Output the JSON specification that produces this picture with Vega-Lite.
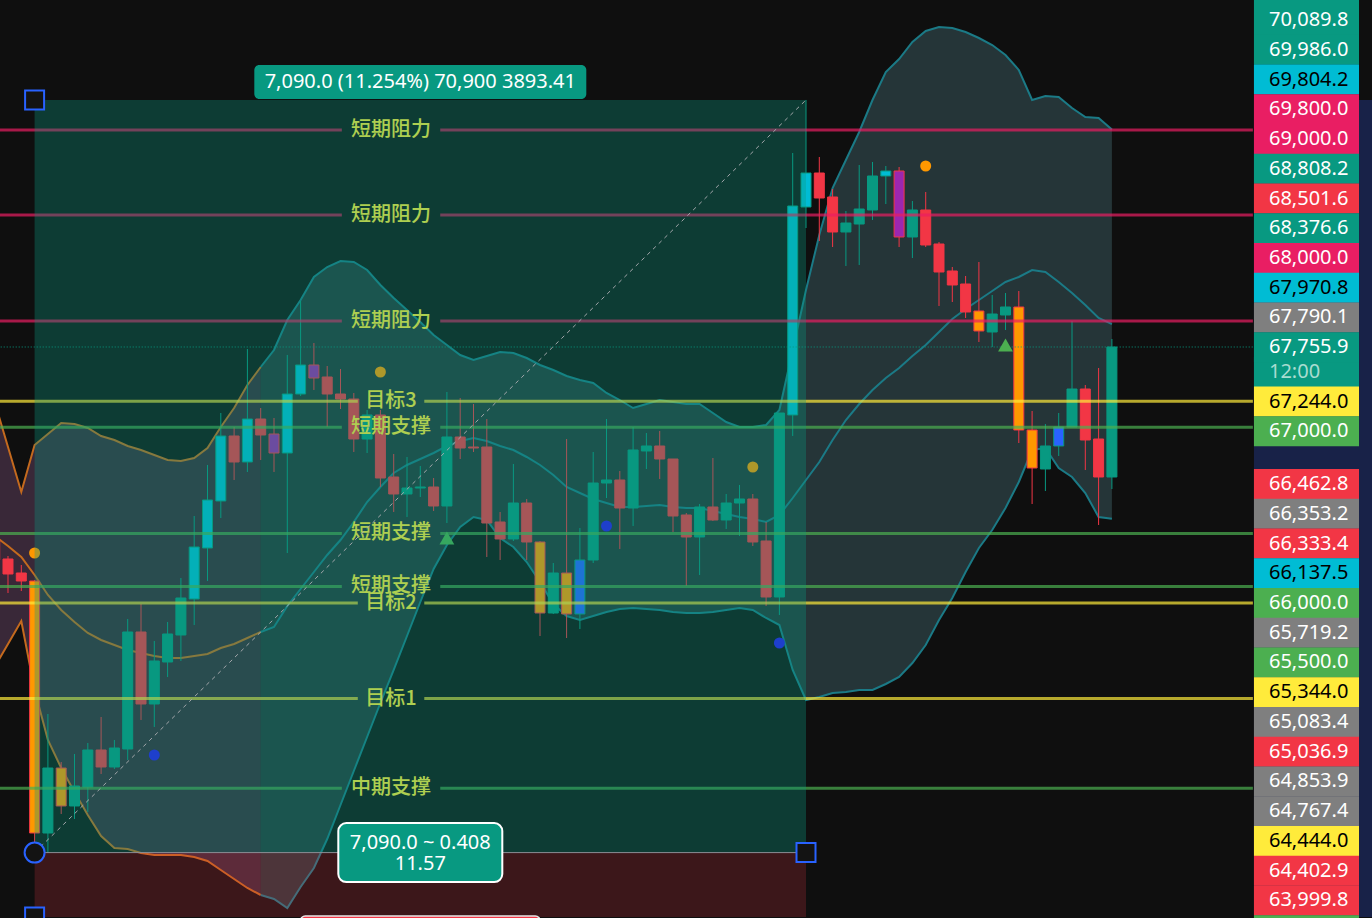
{
"$schema":"https://vega.github.io/schema/vega-lite/v6.json",
"width":1372,"height":918,"padding":0,"autosize":{"type":"none"},
"background":"#0f0f0f",
"config":{"view":{"stroke":null},"axis":{"domain":false,"ticks":false,"labels":false,"grid":false},"text":{"font":"Noto Sans"}},
"resolve":{"scale":{"fill":"independent","color":"independent"}},
"datasets":{
"bars":[
{"i":-1,"o":65937.8,"h":65984.9,"l":65702.3,"c":65749.4,"k":"down","u":67237.8,"m":65975.5,"lo":64741.5},
{"i":0,"o":65758.8,"h":65787.1,"l":65438.5,"c":65617.5,"k":"down","u":66813.9,"m":65881.3,"lo":64958.1},
{"i":1,"o":65626.9,"h":65702.3,"l":65457.4,"c":65551.6,"k":"down","u":66390.0,"m":65777.7,"lo":65174.8},
{"i":2,"o":65551.6,"h":65561.0,"l":63083.5,"c":63177.7,"k":"orange","u":66832.7,"m":65608.1,"lo":64524.8},
{"i":3,"o":63177.7,"h":64298.7,"l":62993.0,"c":63790.0,"k":"up","u":66936.3,"m":65419.7,"lo":64053.8},
{"i":4,"o":63790.0,"h":63846.6,"l":63356.7,"c":63432.1,"k":"orange","u":67039.9,"m":65278.4,"lo":63790.0},
{"i":5,"o":63432.1,"h":63921.9,"l":63309.6,"c":63620.5,"k":"up","u":67030.5,"m":65165.4,"lo":63564.0},
{"i":6,"o":63611.1,"h":64025.5,"l":63375.6,"c":63959.6,"k":"up","u":66992.8,"m":65061.7,"lo":63347.3},
{"i":7,"o":63959.6,"h":64270.5,"l":63733.5,"c":63799.5,"k":"down","u":66917.5,"m":64995.8,"lo":63149.5},
{"i":8,"o":63799.5,"h":64053.8,"l":63780.6,"c":63978.4,"k":"up","u":66879.8,"m":64948.7,"lo":63036.4},
{"i":9,"o":63969.0,"h":65193.6,"l":63865.4,"c":65071.2,"k":"up","u":66823.3,"m":64901.6,"lo":63027.0},
{"i":10,"o":65071.2,"h":65334.9,"l":64242.2,"c":64392.9,"k":"down","u":66785.6,"m":64873.3,"lo":62989.3},
{"i":11,"o":64392.9,"h":64986.4,"l":64176.3,"c":64798.0,"k":"up","u":66738.5,"m":64845.1,"lo":62970.5},
{"i":12,"o":64788.6,"h":65165.4,"l":64647.3,"c":65052.3,"k":"up","u":66691.4,"m":64826.2,"lo":62970.5},
{"i":13,"o":65042.9,"h":65579.8,"l":64798.0,"c":65391.4,"k":"up","u":66682.0,"m":64826.2,"lo":62970.5},
{"i":14,"o":65382.0,"h":66163.9,"l":65137.1,"c":65871.9,"k":"cyan","u":66710.2,"m":64845.1,"lo":62951.7},
{"i":15,"o":65862.4,"h":66644.3,"l":65551.6,"c":66314.6,"k":"cyan","u":66804.4,"m":64863.9,"lo":62914.0},
{"i":16,"o":66305.2,"h":67134.1,"l":66145.0,"c":66917.5,"k":"cyan","u":67002.3,"m":64920.4,"lo":62829.2},
{"i":17,"o":66917.5,"h":67002.3,"l":66503.0,"c":66672.6,"k":"down","u":67181.2,"m":64958.1,"lo":62744.4},
{"i":18,"o":66672.6,"h":67737.0,"l":66578.4,"c":67077.6,"k":"cyan","u":67397.9,"m":65014.6,"lo":62659.6},
{"i":19,"o":67077.6,"h":67181.2,"l":66691.4,"c":66926.9,"k":"down","u":67567.5,"m":65071.2,"lo":62593.7},
{"i":20,"o":66936.3,"h":67087.0,"l":66578.4,"c":66757.3,"k":"purple","u":67727.6,"m":65118.3,"lo":62556.0},
{"i":21,"o":66757.3,"h":67680.5,"l":65815.3,"c":67313.1,"k":"cyan","u":68010.2,"m":65316.1,"lo":62471.2},
{"i":22,"o":67313.1,"h":68189.2,"l":67294.3,"c":67586.3,"k":"cyan","u":68198.6,"m":65476.2,"lo":62669.1},
{"i":23,"o":67586.3,"h":67793.5,"l":67350.8,"c":67463.8,"k":"purple","u":68415.3,"m":65636.4,"lo":62848.0},
{"i":24,"o":67473.3,"h":67576.9,"l":67002.3,"c":67313.1,"k":"down","u":68509.5,"m":65796.5,"lo":63121.2},
{"i":25,"o":67313.1,"h":67548.6,"l":67171.8,"c":67266.0,"k":"down","u":68566.0,"m":65937.8,"lo":63441.5},
{"i":26,"o":67266.0,"h":67322.5,"l":66766.8,"c":66889.2,"k":"down","u":68556.6,"m":66107.4,"lo":63761.8},
{"i":27,"o":66889.2,"h":67162.4,"l":66757.3,"c":67115.3,"k":"up","u":68481.2,"m":66295.8,"lo":64082.1},
{"i":28,"o":67115.3,"h":67162.4,"l":66437.1,"c":66521.8,"k":"down","u":68339.9,"m":66437.1,"lo":64402.3},
{"i":29,"o":66531.3,"h":66747.9,"l":66201.6,"c":66371.1,"k":"down","u":68217.4,"m":66568.9,"lo":64713.2},
{"i":30,"o":66371.1,"h":66719.7,"l":66154.5,"c":66427.6,"k":"up","u":68104.4,"m":66644.3,"lo":65033.5},
{"i":31,"o":66427.6,"h":66634.9,"l":66342.9,"c":66437.1,"k":"up","u":67991.4,"m":66700.8,"lo":65353.8},
{"i":32,"o":66437.1,"h":66521.8,"l":66211.0,"c":66258.1,"k":"down","u":67868.9,"m":66757.3,"lo":65664.6},
{"i":33,"o":66258.1,"h":67332.0,"l":66097.9,"c":66908.1,"k":"up","u":67774.7,"m":66823.3,"lo":65890.7},
{"i":34,"o":66908.1,"h":67275.4,"l":66700.8,"c":66804.4,"k":"down","u":67680.5,"m":66870.4,"lo":66060.3},
{"i":35,"o":66813.9,"h":67218.9,"l":66766.8,"c":66804.4,"k":"down","u":67633.4,"m":66898.6,"lo":66154.5},
{"i":36,"o":66813.9,"h":67077.6,"l":65777.7,"c":66097.9,"k":"down","u":67671.1,"m":66870.4,"lo":66126.2},
{"i":37,"o":66107.4,"h":66201.6,"l":65749.4,"c":65947.2,"k":"down","u":67708.8,"m":66823.3,"lo":65956.6},
{"i":38,"o":65947.2,"h":66653.7,"l":65928.4,"c":66286.3,"k":"up","u":67699.3,"m":66785.6,"lo":65871.9},
{"i":39,"o":66286.3,"h":66324.0,"l":65749.4,"c":65919.0,"k":"down","u":67652.2,"m":66719.7,"lo":65730.6},
{"i":40,"o":65919.0,"h":65928.4,"l":65033.5,"c":65250.1,"k":"orange","u":67586.3,"m":66644.3,"lo":65542.2},
{"i":41,"o":65250.1,"h":65721.1,"l":65240.7,"c":65626.9,"k":"up","u":67539.2,"m":66550.1,"lo":65334.9},
{"i":42,"o":65626.9,"h":66889.2,"l":65014.6,"c":65240.7,"k":"orange","u":67482.7,"m":66437.1,"lo":65221.9},
{"i":43,"o":65240.7,"h":66050.8,"l":65099.4,"c":65749.4,"k":"blue","u":67445.0,"m":66380.5,"lo":65184.2},
{"i":44,"o":65749.4,"h":66766.8,"l":65721.1,"c":66474.7,"k":"up","u":67416.7,"m":66324.0,"lo":65221.9},
{"i":45,"o":66474.7,"h":67077.6,"l":66333.4,"c":66503.0,"k":"up","u":67322.5,"m":66286.3,"lo":65259.6},
{"i":46,"o":66503.0,"h":66587.8,"l":65853.0,"c":66239.2,"k":"down","u":67256.6,"m":66248.7,"lo":65287.8},
{"i":47,"o":66239.2,"h":67002.3,"l":66069.7,"c":66785.6,"k":"up","u":67181.2,"m":66248.7,"lo":65297.2},
{"i":48,"o":66776.2,"h":66945.7,"l":66606.6,"c":66823.3,"k":"up","u":67218.9,"m":66258.1,"lo":65287.8},
{"i":49,"o":66823.3,"h":66964.6,"l":66512.4,"c":66700.8,"k":"down","u":67256.6,"m":66267.5,"lo":65278.4},
{"i":50,"o":66700.8,"h":66700.8,"l":66013.2,"c":66163.9,"k":"down","u":67237.8,"m":66248.7,"lo":65259.6},
{"i":51,"o":66173.3,"h":66192.1,"l":65504.5,"c":65966.1,"k":"down","u":67218.9,"m":66239.2,"lo":65250.1},
{"i":52,"o":65966.1,"h":66276.9,"l":65608.1,"c":66248.7,"k":"up","u":67218.9,"m":66239.2,"lo":65250.1},
{"i":53,"o":66248.7,"h":66710.2,"l":66116.8,"c":66126.2,"k":"down","u":67134.1,"m":66211.0,"lo":65259.6},
{"i":54,"o":66126.2,"h":66371.1,"l":66041.4,"c":66286.3,"k":"up","u":67049.4,"m":66182.7,"lo":65278.4},
{"i":55,"o":66286.3,"h":66455.9,"l":65975.5,"c":66324.0,"k":"up","u":67002.3,"m":66154.5,"lo":65297.2},
{"i":56,"o":66324.0,"h":66371.1,"l":65881.3,"c":65919.0,"k":"down","u":67002.3,"m":66135.6,"lo":65278.4},
{"i":57,"o":65928.4,"h":66107.4,"l":65316.1,"c":65400.9,"k":"down","u":67021.1,"m":66107.4,"lo":65203.0},
{"i":58,"o":65400.9,"h":67134.1,"l":65231.3,"c":67134.1,"k":"up","u":67162.4,"m":66173.3,"lo":65137.1},
{"i":59,"o":67115.3,"h":69583.3,"l":66917.5,"c":69084.1,"k":"cyan","u":67727.6,"m":66333.4,"lo":64713.2},
{"i":60,"o":69074.7,"h":70083.0,"l":68876.8,"c":69394.9,"k":"cyan","u":68292.8,"m":66503.0,"lo":64430.6},
{"i":61,"o":69394.9,"h":69545.7,"l":68754.4,"c":69159.4,"k":"down","u":68810.9,"m":66672.6,"lo":64458.9},
{"i":62,"o":69168.9,"h":69244.2,"l":68697.9,"c":68839.2,"k":"down","u":69253.6,"m":66879.8,"lo":64496.5},
{"i":63,"o":68839.2,"h":69037.0,"l":68518.9,"c":68923.9,"k":"up","u":69517.4,"m":67068.2,"lo":64506.0},
{"i":64,"o":68914.5,"h":69470.3,"l":68528.3,"c":69055.8,"k":"up","u":69781.2,"m":67218.9,"lo":64524.8},
{"i":65,"o":69046.4,"h":69498.6,"l":68952.2,"c":69366.7,"k":"up","u":70082.6,"m":67350.8,"lo":64524.8},
{"i":66,"o":69366.7,"h":69460.9,"l":69102.9,"c":69413.8,"k":"cyan","u":70346.4,"m":67463.8,"lo":64581.3},
{"i":67,"o":69413.8,"h":69451.5,"l":68697.9,"c":68792.1,"k":"purple","u":70468.8,"m":67558.0,"lo":64647.3},
{"i":68,"o":68792.1,"h":69131.2,"l":68594.2,"c":69046.4,"k":"up","u":70629.0,"m":67671.1,"lo":64779.1},
{"i":69,"o":69046.4,"h":69216.0,"l":68697.9,"c":68716.7,"k":"down","u":70732.6,"m":67774.7,"lo":64948.7},
{"i":70,"o":68726.1,"h":68745.0,"l":68142.1,"c":68462.4,"k":"down","u":70770.3,"m":67897.2,"lo":65184.2},
{"i":71,"o":68471.8,"h":68509.5,"l":68179.8,"c":68339.9,"k":"down","u":70760.8,"m":68019.6,"lo":65391.4},
{"i":72,"o":68349.3,"h":68424.7,"l":68029.0,"c":68085.6,"k":"down","u":70723.2,"m":68113.8,"lo":65636.4},
{"i":73,"o":68095.0,"h":68556.6,"l":67803.0,"c":67906.6,"k":"orange","u":70666.6,"m":68198.6,"lo":65862.4},
{"i":74,"o":67897.2,"h":68245.7,"l":67755.9,"c":68066.7,"k":"up","u":70600.7,"m":68283.4,"lo":66032.0},
{"i":75,"o":68057.3,"h":68264.5,"l":67916.0,"c":68132.7,"k":"up","u":70506.5,"m":68368.2,"lo":66239.2},
{"i":76,"o":68132.7,"h":68283.4,"l":66851.5,"c":66974.0,"k":"orange","u":70365.2,"m":68415.3,"lo":66484.2},
{"i":77,"o":66974.0,"h":67153.0,"l":66276.9,"c":66616.0,"k":"orange","u":70082.6,"m":68481.2,"lo":66785.6},
{"i":78,"o":66606.6,"h":67030.5,"l":66399.4,"c":66823.3,"k":"up","u":70120.3,"m":68462.4,"lo":66804.4},
{"i":79,"o":66823.3,"h":67134.1,"l":66729.1,"c":67002.3,"k":"blue","u":70110.9,"m":68368.2,"lo":66616.0},
{"i":80,"o":67002.3,"h":68000.8,"l":67002.3,"c":67360.2,"k":"up","u":70007.2,"m":68264.5,"lo":66531.3},
{"i":81,"o":67360.2,"h":67397.9,"l":66597.2,"c":66879.8,"k":"down","u":69922.5,"m":68151.5,"lo":66380.5},
{"i":82,"o":66889.2,"h":67558.0,"l":66079.1,"c":66531.3,"k":"down","u":69913.0,"m":68029.0,"lo":66154.5},
{"i":83,"o":66531.3,"h":67831.2,"l":66418.2,"c":67755.9,"k":"up","u":69804.2,"m":67970.8,"lo":66137.5}
],
"levels":[
{"p":69800,"t":"短期阻力","k":"res"},
{"p":69000,"t":"短期阻力","k":"res"},
{"p":68000,"t":"短期阻力","k":"res"},
{"p":67244,"t":"目标3","k":"tgt"},
{"p":67000,"t":"短期支撑","k":"sup"},
{"p":66000,"t":"短期支撑","k":"sup"},
{"p":65500,"t":"短期支撑","k":"sup"},
{"p":65344,"t":"目标2","k":"tgt"},
{"p":64444,"t":"目标1","k":"tgt"},
{"p":63600,"t":"中期支撑","k":"mid"}
],
"marks":[
{"i":2,"p":65815.3,"s":"o"},
{"i":28,"p":67520.4,"s":"o"},
{"i":56,"p":66625.5,"s":"o"},
{"i":69,"p":69460.9,"s":"o"},
{"i":33,"p":65956.6,"s":"t"},
{"i":75,"p":67774.7,"s":"t"},
{"i":11,"p":63912.5,"s":"b"},
{"i":45,"p":66069.7,"s":"b"},
{"i":58,"p":64967.5,"s":"b"}
],
"measure":[{"a":2,"b":60,"lo":62993,"hi":70083,"stop":62386,"t1":"7,090.0 (11.254%) 70,900 3893.41","t2":"7,090.0 ~ 0.408\n11.57"}],
"last":[{"p":67755.9}],
"labels":[
{"p":71118.8,"t":"","k":"teal"},
{"p":70836.2,"t":"70,089.8","k":"teal"},
{"p":70556.0,"t":"69,986.0","k":"teal"},
{"p":70275.7,"t":"69,804.2","k":"cyan"},
{"p":69995.5,"t":"69,800.0","k":"pink"},
{"p":69715.2,"t":"69,000.0","k":"pink"},
{"p":69435.0,"t":"68,808.2","k":"teal"},
{"p":69154.7,"t":"68,501.6","k":"red"},
{"p":68874.5,"t":"68,376.6","k":"teal"},
{"p":68594.2,"t":"68,000.0","k":"pink"},
{"p":68314.0,"t":"67,970.8","k":"cyan"},
{"p":68033.8,"t":"67,790.1","k":"gray"},
{"p":67520.4,"t":"12:00","k":"teal"},
{"p":67753.5,"t":"67,755.9","k":"teal"},
{"p":67242.3,"t":"67,244.0","k":"yellow"},
{"p":66962.2,"t":"67,000.0","k":"green"},
{"p":66465.3,"t":"66,462.8","k":"red"},
{"p":66185.1,"t":"66,353.2","k":"gray"},
{"p":65904.8,"t":"66,333.4","k":"red"},
{"p":65624.6,"t":"66,137.5","k":"cyan"},
{"p":65344.3,"t":"66,000.0","k":"green"},
{"p":65064.1,"t":"65,719.2","k":"gray"},
{"p":64783.9,"t":"65,500.0","k":"green"},
{"p":64503.6,"t":"65,344.0","k":"yellow"},
{"p":64223.4,"t":"65,083.4","k":"gray"},
{"p":63943.1,"t":"65,036.9","k":"red"},
{"p":63662.9,"t":"64,853.9","k":"gray"},
{"p":63382.7,"t":"64,767.4","k":"gray"},
{"p":63102.4,"t":"64,444.0","k":"yellow"},
{"p":62822.1,"t":"64,402.9","k":"red"},
{"p":62541.9,"t":"63,999.8","k":"red"},
{"p":62261.6,"t":"","k":"green"}
]
},
"layer":[
{"data":{"name":"bars"},"transform":[{"filter":"datum.i <= 19"}],
 "mark":{"type":"area","color":"#e18cdc","opacity":0.2},
 "encoding":{
  "x":{"field":"i","type":"quantitative","scale":{"domain":[-0.6015,102.556],"nice":false,"zero":false,"padding":0},"axis":{"grid":true,"gridColor":"#222426","values":[0,12,24,36,48,60,72,84],"title":null}},
  "y":{"field":"u","type":"quantitative","scale":{"domain":[62377,71024.6],"nice":false,"zero":false,"padding":0},"axis":{"grid":true,"gridColor":"#222426","values":[62500,63000,63500,64000,64500,65000,65500,66000,66500,67000,67500,68000,68500,69000,69500,70000,70500,71000],"title":null}},
  "y2":{"field":"lo"}}},
{"data":{"name":"bars"},"transform":[{"filter":"datum.i >= 19"}],
 "mark":{"type":"area","color":"#7dcddc","opacity":0.2},
 "encoding":{
  "x":{"field":"i","type":"quantitative","scale":{"domain":[-0.6015,102.556],"nice":false,"zero":false,"padding":0},"axis":null},
  "y":{"field":"u","type":"quantitative","scale":{"domain":[62377,71024.6],"nice":false,"zero":false,"padding":0},"axis":null},
  "y2":{"field":"lo"}}},
{"data":{"name":"bars"},"transform":[{"filter":"datum.i <= 19"},{"fold":["u","m","lo"],"as":["key","val"]}],
 "mark":{"type":"line","color":"#c46a1e","strokeWidth":2},
 "encoding":{
  "x":{"field":"i","type":"quantitative","scale":{"domain":[-0.6015,102.556],"nice":false,"zero":false,"padding":0},"axis":null},
  "y":{"field":"val","type":"quantitative","scale":{"domain":[62377,71024.6],"nice":false,"zero":false,"padding":0},"axis":null},
  "detail":{"field":"key"}}},
{"data":{"name":"bars"},"transform":[{"filter":"datum.i >= 19"},{"fold":["u","m","lo"],"as":["key","val"]}],
 "mark":{"type":"line","color":"#1b7a86","strokeWidth":2},
 "encoding":{
  "x":{"field":"i","type":"quantitative","scale":{"domain":[-0.6015,102.556],"nice":false,"zero":false,"padding":0},"axis":null},
  "y":{"field":"val","type":"quantitative","scale":{"domain":[62377,71024.6],"nice":false,"zero":false,"padding":0},"axis":null},
  "detail":{"field":"key"}}},
{"data":{"name":"bars"},
 "mark":{"type":"rule","strokeWidth":1},
 "encoding":{
  "x":{"field":"i","type":"quantitative","scale":{"domain":[-0.6015,102.556],"nice":false,"zero":false,"padding":0},"axis":null},
  "y":{"field":"h","type":"quantitative","scale":{"domain":[62377,71024.6],"nice":false,"zero":false,"padding":0},"axis":null},
  "y2":{"field":"l"},
  "color":{"condition":{"test":"datum.c >= datum.o","value":"#089981"},"value":"#f23645"}}},
{"data":{"name":"bars"},
 "mark":{"type":"bar","width":10,"strokeWidth":1,"opacity":1},
 "encoding":{
  "x":{"field":"i","type":"quantitative","scale":{"domain":[-0.6015,102.556],"nice":false,"zero":false,"padding":0},"axis":null},
  "y":{"field":"o","type":"quantitative","scale":{"domain":[62377,71024.6],"nice":false,"zero":false,"padding":0},"axis":null},
  "y2":{"field":"c"},
  "fill":{"field":"k","type":"nominal","scale":{"domain":["up","down","cyan","purple","orange","blue"],"range":["#089981","#f23645","#00bcd4","#9c27b0","#ff9800","#2962ff"]},"legend":null},
  "stroke":{"condition":{"test":"datum.c >= datum.o","value":"#089981"},"value":"#f23645"}}},
{"data":{"name":"levels"},"transform":[{"filter":"datum.k != 'tgt'"}],
 "mark":{"type":"rule","strokeWidth":3,"opacity":0.7},
 "encoding":{
  "x":{"datum":-1,"type":"quantitative","scale":{"domain":[-0.6015,102.556],"nice":false,"zero":false,"padding":0},"axis":null},
  "x2":{"datum":25.1},
  "y":{"field":"p","type":"quantitative","scale":{"domain":[62377,71024.6],"nice":false,"zero":false,"padding":0},"axis":null},
  "color":{"field":"k","type":"nominal","scale":{"domain":["res","sup","tgt","mid"],"range":["#e91e63","#4caf50","#ffeb3b","#4caf50"]},"legend":null}}},
{"data":{"name":"levels"},"transform":[{"filter":"datum.k != 'tgt'"}],
 "mark":{"type":"rule","strokeWidth":3,"opacity":0.7},
 "encoding":{
  "x":{"datum":32.5,"type":"quantitative","scale":{"domain":[-0.6015,102.556],"nice":false,"zero":false,"padding":0},"axis":null},
  "x2":{"datum":93.6},
  "y":{"field":"p","type":"quantitative","scale":{"domain":[62377,71024.6],"nice":false,"zero":false,"padding":0},"axis":null},
  "color":{"field":"k","type":"nominal","scale":{"domain":["res","sup","tgt","mid"],"range":["#e91e63","#4caf50","#ffeb3b","#4caf50"]},"legend":null}}},
{"data":{"name":"levels"},"transform":[{"filter":"datum.k == 'tgt'"}],
 "mark":{"type":"rule","strokeWidth":3,"opacity":0.7},
 "encoding":{
  "x":{"datum":-1,"type":"quantitative","scale":{"domain":[-0.6015,102.556],"nice":false,"zero":false,"padding":0},"axis":null},
  "x2":{"datum":26.3},
  "y":{"field":"p","type":"quantitative","scale":{"domain":[62377,71024.6],"nice":false,"zero":false,"padding":0},"axis":null},
  "color":{"field":"k","type":"nominal","scale":{"domain":["res","sup","tgt","mid"],"range":["#e91e63","#4caf50","#ffeb3b","#4caf50"]},"legend":null}}},
{"data":{"name":"levels"},"transform":[{"filter":"datum.k == 'tgt'"}],
 "mark":{"type":"rule","strokeWidth":3,"opacity":0.7},
 "encoding":{
  "x":{"datum":31.3,"type":"quantitative","scale":{"domain":[-0.6015,102.556],"nice":false,"zero":false,"padding":0},"axis":null},
  "x2":{"datum":93.6},
  "y":{"field":"p","type":"quantitative","scale":{"domain":[62377,71024.6],"nice":false,"zero":false,"padding":0},"axis":null},
  "color":{"field":"k","type":"nominal","scale":{"domain":["res","sup","tgt","mid"],"range":["#e91e63","#4caf50","#ffeb3b","#4caf50"]},"legend":null}}},
{"data":{"name":"levels"},
 "mark":{"type":"text","font":"Noto Sans CJK SC","fontSize":20,"fontWeight":500,"color":"#ffeb3b","align":"center","baseline":"middle"},
 "encoding":{
  "x":{"datum":28.8,"type":"quantitative","scale":{"domain":[-0.6015,102.556],"nice":false,"zero":false,"padding":0},"axis":null},
  "y":{"field":"p","type":"quantitative","scale":{"domain":[62377,71024.6],"nice":false,"zero":false,"padding":0},"axis":null},
  "text":{"field":"t"}}},
{"data":{"name":"last"},
 "mark":{"type":"rule","strokeWidth":1,"color":"#089981","strokeDash":[1,2]},
 "encoding":{
  "x":{"datum":-1,"type":"quantitative","scale":{"domain":[-0.6015,102.556],"nice":false,"zero":false,"padding":0},"axis":null},
  "x2":{"datum":93.6},
  "y":{"field":"p","type":"quantitative","scale":{"domain":[62377,71024.6],"nice":false,"zero":false,"padding":0},"axis":null}}},
{"data":{"name":"marks"},"transform":[{"filter":"datum.s == 'o'"}],
 "mark":{"type":"point","shape":"circle","filled":true,"size":121,"color":"#ff9800","opacity":1},
 "encoding":{
  "x":{"field":"i","type":"quantitative","scale":{"domain":[-0.6015,102.556],"nice":false,"zero":false,"padding":0},"axis":null},
  "y":{"field":"p","type":"quantitative","scale":{"domain":[62377,71024.6],"nice":false,"zero":false,"padding":0},"axis":null}}},
{"data":{"name":"marks"},"transform":[{"filter":"datum.s == 't'"}],
 "mark":{"type":"point","shape":"triangle-up","filled":true,"size":220,"color":"#4caf50","opacity":1},
 "encoding":{
  "x":{"field":"i","type":"quantitative","scale":{"domain":[-0.6015,102.556],"nice":false,"zero":false,"padding":0},"axis":null},
  "y":{"field":"p","type":"quantitative","scale":{"domain":[62377,71024.6],"nice":false,"zero":false,"padding":0},"axis":null}}},
{"data":{"name":"measure"},
 "mark":{"type":"rect","color":"#089981","opacity":0.33},
 "encoding":{
  "x":{"field":"a","type":"quantitative","scale":{"domain":[-0.6015,102.556],"nice":false,"zero":false,"padding":0},"axis":null},
  "x2":{"field":"b"},
  "y":{"field":"hi","type":"quantitative","scale":{"domain":[62377,71024.6],"nice":false,"zero":false,"padding":0},"axis":null},
  "y2":{"field":"lo"}}},
{"data":{"name":"measure"},
 "mark":{"type":"rect","color":"#f23645","opacity":0.2},
 "encoding":{
  "x":{"field":"a","type":"quantitative","scale":{"domain":[-0.6015,102.556],"nice":false,"zero":false,"padding":0},"axis":null},
  "x2":{"field":"b"},
  "y":{"field":"lo","type":"quantitative","scale":{"domain":[62377,71024.6],"nice":false,"zero":false,"padding":0},"axis":null},
  "y2":{"field":"stop"}}},
{"data":{"name":"measure"},
 "mark":{"type":"rule","color":"#8c8f96","strokeWidth":1},
 "encoding":{
  "x":{"field":"a","type":"quantitative","scale":{"domain":[-0.6015,102.556],"nice":false,"zero":false,"padding":0},"axis":null},
  "x2":{"field":"b"},
  "y":{"field":"lo","type":"quantitative","scale":{"domain":[62377,71024.6],"nice":false,"zero":false,"padding":0},"axis":null}}},
{"data":{"name":"measure"},
 "mark":{"type":"rule","color":"#a3a7ab","strokeWidth":1,"strokeDash":[4,4]},
 "encoding":{
  "x":{"field":"a","type":"quantitative","scale":{"domain":[-0.6015,102.556],"nice":false,"zero":false,"padding":0},"axis":null},
  "x2":{"field":"b"},
  "y":{"field":"lo","type":"quantitative","scale":{"domain":[62377,71024.6],"nice":false,"zero":false,"padding":0},"axis":null},
  "y2":{"field":"hi"}}},
{"data":{"name":"marks"},"transform":[{"filter":"datum.s == 'b'"}],
 "mark":{"type":"point","shape":"circle","filled":true,"size":121,"color":"#1e3fcc","opacity":1},
 "encoding":{
  "x":{"field":"i","type":"quantitative","scale":{"domain":[-0.6015,102.556],"nice":false,"zero":false,"padding":0},"axis":null},
  "y":{"field":"p","type":"quantitative","scale":{"domain":[62377,71024.6],"nice":false,"zero":false,"padding":0},"axis":null}}},
{"data":{"name":"measure"},
 "mark":{"type":"rect","color":"#089981","width":332,"height":34,"yOffset":-18,"cornerRadius":5},
 "encoding":{
  "x":{"datum":31,"type":"quantitative","scale":{"domain":[-0.6015,102.556],"nice":false,"zero":false,"padding":0},"axis":null},
  "y":{"field":"hi","type":"quantitative","scale":{"domain":[62377,71024.6],"nice":false,"zero":false,"padding":0},"axis":null}}},
{"data":{"name":"measure"},
 "mark":{"type":"text","color":"#ffffff","fontSize":20,"dy":-18,"align":"center","baseline":"middle"},
 "encoding":{
  "x":{"datum":31,"type":"quantitative","scale":{"domain":[-0.6015,102.556],"nice":false,"zero":false,"padding":0},"axis":null},
  "y":{"field":"hi","type":"quantitative","scale":{"domain":[62377,71024.6],"nice":false,"zero":false,"padding":0},"axis":null},
  "text":{"field":"t1"}}},
{"data":{"name":"measure"},
 "mark":{"type":"rect","color":"#f23645","width":240,"height":34,"yOffset":16,"cornerRadius":5,"stroke":"#e8e8e8","strokeWidth":1.5},
 "encoding":{
  "x":{"datum":31,"type":"quantitative","scale":{"domain":[-0.6015,102.556],"nice":false,"zero":false,"padding":0},"axis":null},
  "y":{"field":"stop","type":"quantitative","scale":{"domain":[62377,71024.6],"nice":false,"zero":false,"padding":0},"axis":null}}},
{"data":{"name":"measure"},
 "mark":{"type":"rect","color":"#089981","width":164,"height":59,"cornerRadius":8,"stroke":"#ffffff","strokeWidth":2},
 "encoding":{
  "x":{"datum":31,"type":"quantitative","scale":{"domain":[-0.6015,102.556],"nice":false,"zero":false,"padding":0},"axis":null},
  "y":{"field":"lo","type":"quantitative","scale":{"domain":[62377,71024.6],"nice":false,"zero":false,"padding":0},"axis":null}}},
{"data":{"name":"measure"},
 "mark":{"type":"text","color":"#ffffff","fontSize":20,"align":"center","baseline":"middle","lineBreak":"\n","lineHeight":21,"dy":-10},
 "encoding":{
  "x":{"datum":31,"type":"quantitative","scale":{"domain":[-0.6015,102.556],"nice":false,"zero":false,"padding":0},"axis":null},
  "y":{"field":"lo","type":"quantitative","scale":{"domain":[62377,71024.6],"nice":false,"zero":false,"padding":0},"axis":null},
  "text":{"field":"t2"}}},
{"data":{"name":"measure"},
 "mark":{"type":"point","shape":"square","filled":true,"size":361,"color":"#131313","stroke":"#2962ff","strokeWidth":2,"opacity":1},
 "encoding":{
  "x":{"field":"a","type":"quantitative","scale":{"domain":[-0.6015,102.556],"nice":false,"zero":false,"padding":0},"axis":null},
  "y":{"field":"hi","type":"quantitative","scale":{"domain":[62377,71024.6],"nice":false,"zero":false,"padding":0},"axis":null}}},
{"data":{"name":"measure"},
 "mark":{"type":"point","shape":"square","filled":true,"size":361,"color":"#131313","stroke":"#2962ff","strokeWidth":2,"opacity":1},
 "encoding":{
  "x":{"field":"a","type":"quantitative","scale":{"domain":[-0.6015,102.556],"nice":false,"zero":false,"padding":0},"axis":null},
  "y":{"field":"stop","type":"quantitative","scale":{"domain":[62377,71024.6],"nice":false,"zero":false,"padding":0},"axis":null}}},
{"data":{"name":"measure"},
 "mark":{"type":"point","shape":"square","filled":true,"size":361,"color":"#131313","stroke":"#2962ff","strokeWidth":2,"opacity":1},
 "encoding":{
  "x":{"field":"b","type":"quantitative","scale":{"domain":[-0.6015,102.556],"nice":false,"zero":false,"padding":0},"axis":null},
  "y":{"field":"lo","type":"quantitative","scale":{"domain":[62377,71024.6],"nice":false,"zero":false,"padding":0},"axis":null}}},
{"data":{"name":"measure"},
 "mark":{"type":"point","shape":"circle","filled":true,"size":400,"color":"#131313","stroke":"#2962ff","strokeWidth":2,"opacity":1},
 "encoding":{
  "x":{"field":"a","type":"quantitative","scale":{"domain":[-0.6015,102.556],"nice":false,"zero":false,"padding":0},"axis":null},
  "y":{"field":"lo","type":"quantitative","scale":{"domain":[62377,71024.6],"nice":false,"zero":false,"padding":0},"axis":null}}},
{"data":{"name":"measure"},
 "mark":{"type":"rect","color":"#182248"},
 "encoding":{
  "x":{"datum":93.68,"type":"quantitative","scale":{"domain":[-0.6015,102.556],"nice":false,"zero":false,"padding":0},"axis":null},
  "x2":{"datum":102.6},
  "y":{"field":"hi","type":"quantitative","scale":{"domain":[62377,71024.6],"nice":false,"zero":false,"padding":0},"axis":null},
  "y2":{"field":"stop"}}},
{"data":{"name":"labels"},
 "mark":{"type":"rect","height":29.8},
 "encoding":{
  "x":{"datum":93.68,"type":"quantitative","scale":{"domain":[-0.6015,102.556],"nice":false,"zero":false,"padding":0},"axis":null},
  "x2":{"datum":101.58},
  "y":{"field":"p","type":"quantitative","scale":{"domain":[62377,71024.6],"nice":false,"zero":false,"padding":0},"axis":null},
  "fill":{"field":"k","type":"nominal","scale":{"domain":["teal","cyan","pink","red","gray","green","yellow"],"range":["#089981","#00bcd4","#e91e63","#f23645","#7f7f7f","#4caf50","#ffeb3b"]},"legend":null}}},
{"data":{"name":"labels"},
 "mark":{"type":"text","fontSize":20,"align":"left","baseline":"middle"},
 "encoding":{
  "x":{"datum":94.81,"type":"quantitative","scale":{"domain":[-0.6015,102.556],"nice":false,"zero":false,"padding":0},"axis":null},
  "y":{"field":"p","type":"quantitative","scale":{"domain":[62377,71024.6],"nice":false,"zero":false,"padding":0},"axis":null},
  "text":{"field":"t"},
  "color":{"condition":[{"test":"datum.t == '12:00'","value":"#a8dcd0"},{"test":"datum.k == 'cyan' || datum.k == 'yellow'","value":"#000000"}],"value":"#ffffff"}}}
]
}
